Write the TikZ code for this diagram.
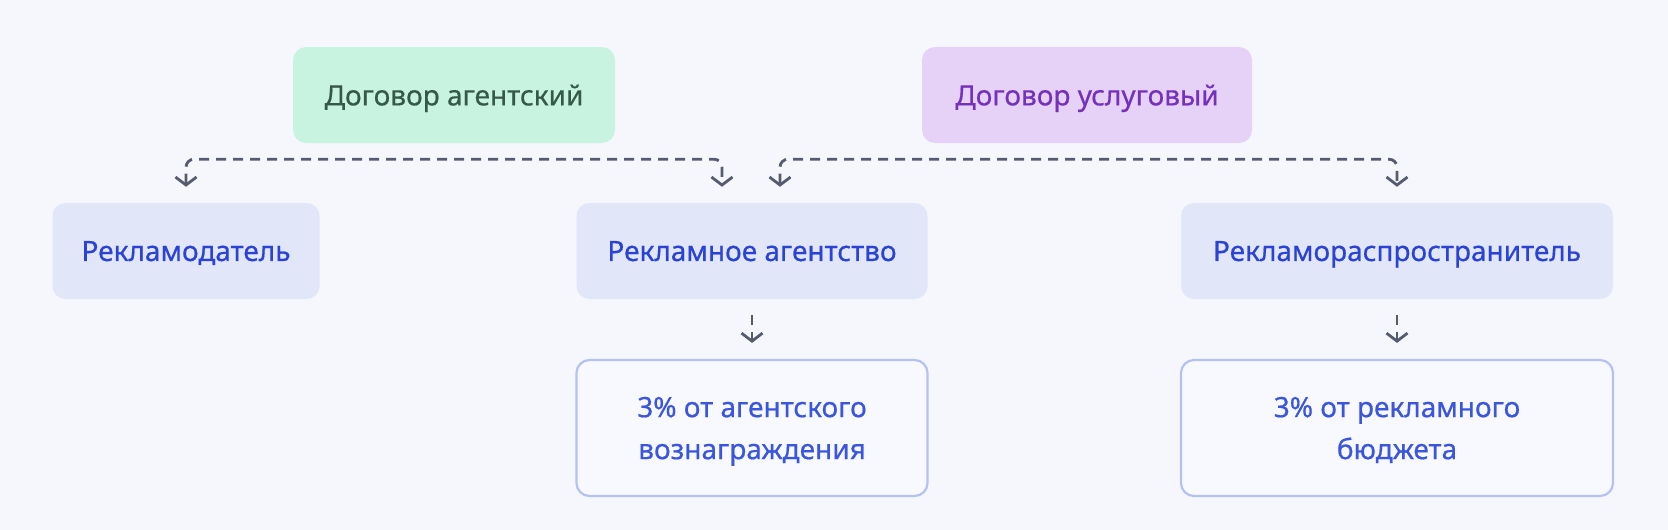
\documentclass[tikz,border=0pt]{standalone}
\usepackage{fontspec}
\setmainfont[FakeBold=0.6]{Noto Sans}
\usetikzlibrary{arrows.meta}
\definecolor{bgc}{HTML}{F5F7FD}
\definecolor{greenfill}{HTML}{C9F3E1}
\definecolor{greentext}{HTML}{35584A}
\definecolor{purplefill}{HTML}{E6D2F6}
\definecolor{purpletext}{HTML}{7530BC}
\definecolor{bluefill}{HTML}{E2E6F9}
\definecolor{bluetext}{HTML}{2A43D6}
\definecolor{feetext}{HTML}{3A55DE}
\definecolor{feeborder}{HTML}{B5C2F0}
\definecolor{feefill}{HTML}{F7F9FF}
\definecolor{linegray}{HTML}{575B70}
\begin{document}
\begin{tikzpicture}[x=1pt,y=-1pt,
  box/.style={rectangle, rounded corners=13pt, inner sep=0pt, align=center,
              text depth=0pt, font=\fontsize{28}{42}\selectfont\bfseries},
  contract/.style={box, minimum height=96pt},
  greenbox/.style={contract, fill=greenfill, text=greentext},
  purplebox/.style={contract, fill=purplefill, text=purpletext},
  partybox/.style={box, fill=bluefill, text=bluetext, minimum height=96pt},
  feebox/.style={box, fill=feefill, draw=feeborder, line width=2.2pt, text=feetext, minimum height=136pt},
  tip/.tip={Straight Barb[length=8pt,width=21pt,line width=2.8pt]},
  conn/.style={draw=linegray, line width=2.8pt, dash pattern=on 10pt off 7pt,
               rounded corners=8pt, shorten >=16pt, shorten <=16pt},
  split/.style={conn, tip-tip},
  drop/.style={conn, -tip}
]
\fill[bgc] (0,0) rectangle (1668,530);
\useasboundingbox (0,0) rectangle (1668,530);

\node[greenbox, minimum width=322pt] (agent) at (454,95) {Договор агентский};
\node[purplebox, minimum width=330pt] (service) at (1087,95) {Договор услуговый};

\node[partybox, minimum width=267pt] (adv) at (186,251) {Рекламодатель};
\node[partybox, minimum width=351pt] (agency) at (752,251) {Рекламное агентство};
\node[partybox, minimum width=432pt] (dist) at (1397,251) {Рекламораспространитель};

\node[feebox, minimum width=351pt] (fee1) at (752,428) {3\% от агентского\\вознаграждения};
\node[feebox, minimum width=432pt] (fee2) at (1397,428) {3\% от рекламного\\бюджета};

\path (agent.south) ++(0,16) coordinate (ja);
\path (service.south) ++(0,16) coordinate (jb);

\draw[split] (adv.north) |- (ja) -| ([xshift=-30pt]agency.north);
\draw[split] ([xshift=28pt]agency.north) |- (jb) -| (dist.north);

\draw[drop] (agency.south) -- (fee1.north);
\draw[drop] (dist.south) -- (fee2.north);
\end{tikzpicture}
\end{document}
